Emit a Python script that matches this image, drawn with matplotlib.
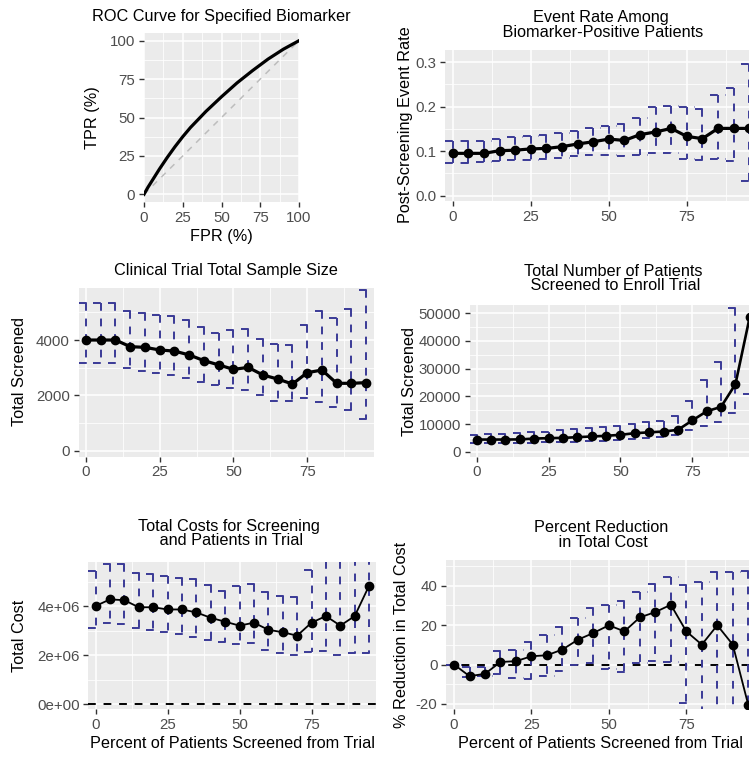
import matplotlib
matplotlib.use("Agg")
import matplotlib.pyplot as plt

plt.rcParams['font.family'] = ['Liberation Sans', 'DejaVu Sans']

W, H = 749, 758

# ROC curve
roc_fpr = [0, 2.5, 5, 10, 15, 20, 25, 30, 40, 50, 60, 70, 80, 90, 100]
roc_tpr = [0, 4.5, 8.5, 16.5, 24, 31, 37.5, 43.5, 54, 63.5, 72.5, 80.5, 88, 94.5, 100]

# percent of patients screened from trial
pct = [0, 5, 10, 15, 20, 25, 30, 35, 40, 45, 50, 55, 60, 65, 70, 75, 80, 85, 90, 95]

rate = [0.095, 0.095, 0.095, 0.101, 0.102, 0.105, 0.106, 0.110, 0.116, 0.121,
        0.127, 0.124, 0.137, 0.143, 0.151, 0.133, 0.128, 0.151, 0.151, 0.151]
rate_hi = [0.122, 0.122, 0.122, 0.127, 0.131, 0.133, 0.137, 0.140, 0.146, 0.151,
           0.157, 0.160, 0.174, 0.200, 0.201, 0.200, 0.194, 0.226, 0.241, 0.296]
rate_lo = [0.073, 0.073, 0.075, 0.077, 0.079, 0.081, 0.082, 0.084, 0.088, 0.092,
           0.092, 0.088, 0.092, 0.096, 0.096, 0.082, 0.081, 0.083, 0.077, 0.032]

sample = [4000, 4000, 4000, 3760, 3735, 3640, 3600, 3460, 3255, 3100,
          2940, 3010, 2735, 2590, 2410, 2820, 2915, 2435, 2435, 2460]
sample_hi = [5350, 5350, 5350, 5060, 4990, 4900, 4870, 4720, 4480, 4265,
             4360, 4390, 4025, 3855, 3820, 4540, 5060, 4785, 5110, 5800]
sample_lo = [3160, 3160, 3160, 2975, 2890, 2795, 2735, 2615, 2495, 2375,
             2255, 2195, 2010, 1810, 1810, 1890, 1770, 1590, 1470, 1130]

screened = [4400, 4400, 4400, 4450, 4750, 4900, 5000, 5250, 5500, 5750,
            6100, 6700, 7000, 7300, 7900, 11300, 14600, 16200, 24400, 48800]
screened_hi = [6100, 6300, 6500, 6700, 6950, 7300, 7700, 8200, 8500, 8800,
               9400, 10100, 10600, 11000, 12800, 18200, 26000, 32400, 51800, 62000]
screened_lo = [3050, 3050, 3050, 3050, 3300, 3400, 3500, 3650, 3800, 3900,
               4300, 4500, 4900, 5300, 6100, 7900, 9200, 10700, 14000, 20800]

cost = [4.00e6, 4.27e6, 4.24e6, 3.95e6, 3.95e6, 3.86e6, 3.86e6, 3.74e6, 3.52e6, 3.36e6,
        3.20e6, 3.32e6, 3.03e6, 2.93e6, 2.79e6, 3.32e6, 3.59e6, 3.20e6, 3.59e6, 4.83e6]
cost_hi = [5.45e6, 5.70e6, 5.70e6, 5.33e6, 5.29e6, 5.24e6, 5.16e6, 5.10e6, 4.86e6, 4.61e6,
           4.83e6, 4.88e6, 4.56e6, 4.42e6, 4.38e6, 5.47e6, 5.85e6, 5.85e6, 5.95e6, 6.00e6]
cost_lo = [3.12e6, 3.29e6, 3.25e6, 3.12e6, 3.02e6, 2.93e6, 2.84e6, 2.75e6, 2.61e6, 2.52e6,
           2.44e6, 2.48e6, 2.20e6, 2.07e6, 2.00e6, 2.14e6, 2.16e6, 2.00e6, 2.07e6, 2.10e6]

reduction = [0, -5.9, -4.7, 1.3, 1.7, 4.2, 4.7, 7.6, 12.6, 16.0,
             19.9, 16.8, 23.9, 26.6, 30.3, 16.8, 10.1, 19.9, 10.1, -20.5]
reduction_hi = [0, -1.5, -1.5, 6.7, 7.6, 11.4, 15.2, 18.9, 23.6, 28.6,
                30.3, 32.0, 37.0, 41.0, 44.6, 40.4, 42.0, 47.0, 47.0, 47.5]
reduction_lo = [0, -6.5, -6.0, -5.0, -6.7, -7.1, -5.9, -3.4, 0.0, 0.8,
                -2.5, -3.7, 0.8, 2.0, 1.3, -19.4, -35, -30, -28, -40]

FS = 11.7      # titles
TFS = 10.8     # tick labels
EBC = '#3a3a96'
HALF = 2.5  # half width of errorbar caps

fig = plt.figure(figsize=(W / 100, H / 100), dpi=100)


def panel(box, xlim, ylim, xticks, xminor, yticks, ylabels, yminor, xlabels=None):
    l, r, t, b = box
    ax = fig.add_axes([l / W, 1 - b / H, (r - l) / W, (b - t) / H])
    ax.set_facecolor('#EBEBEB')
    for s in ax.spines.values():
        s.set_visible(False)
    ax.set_xlim(xlim)
    ax.set_ylim(ylim)
    ax.set_xticks(xticks)
    if xlabels:
        ax.set_xticklabels(xlabels)
    ax.set_yticks(yticks)
    ax.set_yticklabels(ylabels)
    ax.set_xticks(xminor, minor=True)
    ax.set_yticks(yminor, minor=True)
    ax.grid(which='major', color='white', lw=1.1)
    ax.grid(which='minor', color='white', lw=0.55)
    ax.set_axisbelow(True)
    ax.tick_params(which='major', length=3.8, width=1, color='#333333',
                   labelcolor='#4D4D4D', labelsize=TFS, pad=2.5)
    ax.tick_params(which='minor', length=0)
    return ax


def errbars(ax, x, lo, hi):
    left = [v - HALF for v in x]
    right = [v + HALF for v in x]
    kw = dict(colors=EBC, linewidths=1.4, linestyles=(0, (4, 4)), zorder=2)
    ax.hlines(hi, left, right, **kw)
    ax.vlines(x, hi, lo, **kw)
    ax.hlines(lo, left, right, **kw)


def label(x, y, s, rot=0):
    fig.text(x / W, 1 - y / H, s, ha='center', va='center', rotation=rot,
             fontsize=FS, color='black', linespacing=0.95, multialignment='center')


xt = [0, 25, 50, 75]
xm = [12.5, 37.5, 62.5, 87.5]
xr = (-2.5, 97.5)

# ROC
ax1 = panel((144, 299, 33, 202), (0, 100), (-5, 105),
            [0, 25, 50, 75, 100], xm, [0, 25, 50, 75, 100],
            ['0', '25', '50', '75', '100'], xm)
ax1.plot([0, 100], [0, 100], color='#BDBDBD', lw=1.1, ls=(0, (4, 4)))
ax1.plot(roc_fpr, roc_tpr, color='black', lw=2.3)
label(221, 16, 'ROC Curve for Specified Biomarker')
label(221, 237, 'FPR (%)')
label(93, 118, 'TPR (%)', 90)

# event rate
ax2 = panel((445, 757, 50, 201), xr, (-0.012, 0.327), xt, xm,
            [0, 0.1, 0.2, 0.3], ['0.0', '0.1', '0.2', '0.3'], [0.05, 0.15, 0.25])
errbars(ax2, pct, rate_lo, rate_hi)
ax2.plot(pct, rate, color='black', lw=2.3, marker='o', ms=6, zorder=3)
label(601, 25, 'Event Rate Among\n Biomarker-Positive Patients')
label(405, 125, 'Post-Screening Event Rate', 90)

# sample size
ax3 = panel((78.6, 373.6, 288, 456.7), xr, (-217, 5880), xt, xm,
            [0, 2000, 4000], ['0', '2000', '4000'], [1000, 3000, 5000])
errbars(ax3, pct, sample_lo, sample_hi)
ax3.plot(pct, sample, color='black', lw=2.3, marker='o', ms=6, zorder=3)
label(226, 270, 'Clinical Trial Total Sample Size')
label(20, 372, 'Total Screened', 90)

# total screened
ax4 = panel((469.5, 757, 305, 456.7), xr, (-1800, 53000), xt, xm,
            [0, 10000, 20000, 30000, 40000, 50000],
            ['0', '10000', '20000', '30000', '40000', '50000'],
            [5000, 15000, 25000, 35000, 45000])
errbars(ax4, pct, screened_lo, screened_hi)
ax4.plot(pct, screened, color='black', lw=1.9, marker='o', ms=6, zorder=3)
label(613, 278.5, 'Total Number of Patients\n Screened to Enroll Trial')
label(409, 381, 'Total Screened', 90)

# total cost
ax5 = panel((88.3, 376.3, 561.7, 709.3), xr, (-0.216e6, 5.81e6), xt, xm,
            [0, 2e6, 4e6], ['0e+00', '2e+06', '4e+06'], [1e6, 3e6, 5e6])
ax5.axhline(0, color='black', lw=1.4, ls=(0, (4, 4)), zorder=2)
errbars(ax5, pct, cost_lo, cost_hi)
ax5.plot(pct, cost, color='black', lw=1.3, marker='o', ms=6, zorder=3)
label(229, 533.5, 'Total Costs for Screening\n and Patients in Trial')
label(20, 635.5, 'Total Cost', 90)
label(232, 744, 'Percent of Patients Screened from Trial')

# percent reduction
ax6 = panel((446.3, 756, 560, 709.3), xr, (-22.7, 53), xt, xm,
            [-20, 0, 20, 40], ['-20', '0', '20', '40'], [-10, 10, 30, 50])
ax6.axhline(0, color='black', lw=1.4, ls=(0, (4, 4)), zorder=2)
errbars(ax6, pct, reduction_lo, reduction_hi)
ax6.plot(pct, reduction, color='black', lw=1.3, marker='o', ms=6, zorder=3)
label(601, 535, 'Percent Reduction\n in Total Cost')
label(402, 635, '% Reduction in Total Cost', 90)
label(601, 744, 'Percent of Patients Screened from Trial')

fig.savefig('out.png', dpi=100)
